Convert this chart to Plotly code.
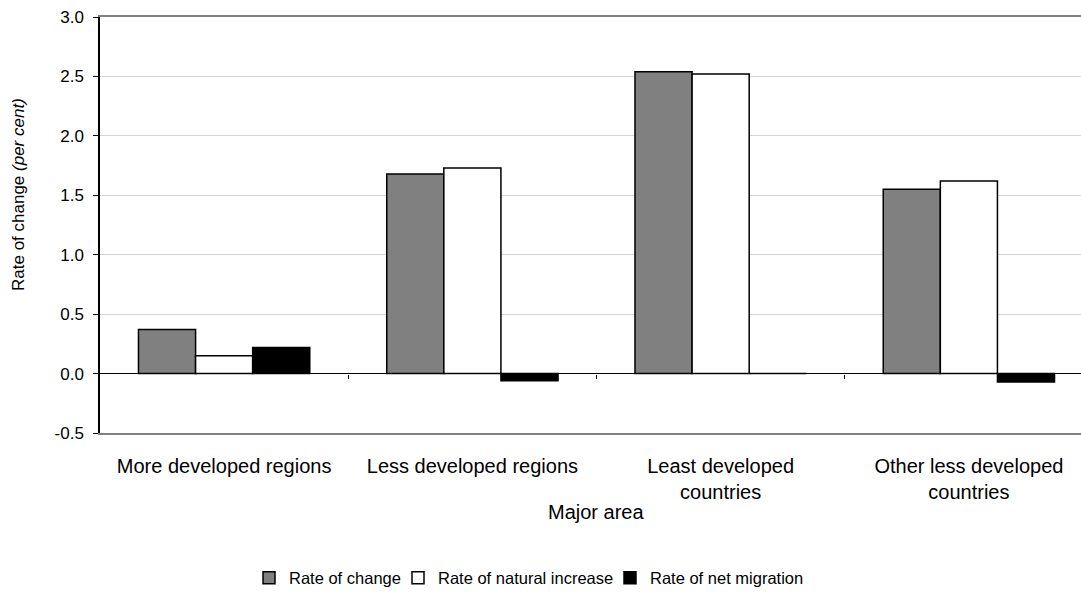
import plotly.graph_objects as go

# Major areas on the category axis
categories = [
    "More developed regions",
    "Less developed regions",
    "Least developed<br>countries",
    "Other less developed<br>countries",
]

# Rates in per cent
rate_of_change = [0.37, 1.68, 2.54, 1.55]
rate_of_natural_increase = [0.15, 1.73, 2.52, 1.62]
rate_of_net_migration = [0.22, -0.06, 0.0, -0.07]

y_ticks = [-0.5, 0.0, 0.5, 1.0, 1.5, 2.0, 2.5, 3.0]

FONT = "Liberation Sans, Arial, sans-serif"
FS_TICK = 17
FS_CAT = 20
FS_LEGEND = 16.5

W, H = 1081, 616
M_L, M_R, M_T, M_B = 100, 0, 17, 183
plot_w = W - M_L - M_R
plot_h = H - M_T - M_B

# name, values, fill, legend id, left edge of the legend entry text (px)
series = [
    ("Rate of change", rate_of_change, "#808080", "legend", 289),
    ("Rate of natural increase", rate_of_natural_increase, "#ffffff", "legend2", 438),
    ("Rate of net migration", rate_of_net_migration, "#000000", "legend3", 650),
]

fig = go.Figure()
for name, values, color, leg, _ in series:
    fig.add_trace(go.Bar(
        x=list(range(len(categories))),
        y=values,
        name=name,
        legend=leg,
        marker=dict(color=color, line=dict(color="#000000", width=1.5)),
    ))

# invisible trace to carry the category boundary ticks on the zero line
fig.add_trace(go.Scatter(x=[0], y=[0], xaxis="x2", mode="markers",
                         marker=dict(opacity=0), showlegend=False, hoverinfo="skip"))

n = len(categories)
x_range = [-0.5, n - 0.5 - 12 / 248]
y_min, y_max = y_ticks[0], y_ticks[-1]


def legend_box(text_left):
    return dict(
        orientation="h",
        xref="container", yref="container",
        x=(text_left - 40) / W, xanchor="left",
        y=1 - 578 / H, yanchor="middle",
        font=dict(size=FS_LEGEND),
        itemwidth=30,
        bgcolor="rgba(0,0,0,0)",
    )


legends = {s[3]: legend_box(s[4]) for s in series}

fig.update_layout(
    width=W,
    height=H,
    margin=dict(l=M_L, r=M_R, t=M_T, b=M_B),
    paper_bgcolor="#ffffff",
    plot_bgcolor="#ffffff",
    font=dict(family=FONT, size=FS_TICK, color="#000000"),
    barmode="group",
    bargap=0.31,
    bargroupgap=0,
    showlegend=True,
    legend=legends["legend"],
    legend2=legends["legend2"],
    legend3=legends["legend3"],
    xaxis=dict(
        range=x_range,
        tickmode="array",
        tickvals=list(range(n)),
        ticktext=categories,
        tickfont=dict(size=FS_CAT),
        ticks="",
        showgrid=False,
        zeroline=False,
        showline=True,
        linecolor="#808080",
        linewidth=1.5,
        mirror=True,
        ticklabelstandoff=14,
        fixedrange=True,
    ),
    xaxis2=dict(
        overlaying="x",
        anchor="free",
        position=(0 - y_min) / (y_max - y_min),
        range=x_range,
        tickmode="array",
        tickvals=[i + 0.5 for i in range(n - 1)],
        ticks="outside",
        ticklen=4,
        tickcolor="#000000",
        showticklabels=False,
        showgrid=False,
        zeroline=False,
        showline=False,
    ),
    yaxis=dict(
        range=[y_min, y_max],
        tickmode="array",
        tickvals=y_ticks,
        ticktext=[f"{v:.1f}" for v in y_ticks],
        ticks="outside",
        ticklen=5,
        tickcolor="#000000",
        showgrid=True,
        gridcolor="#d4d4d4",
        gridwidth=1,
        zeroline=True,
        zerolinecolor="#000000",
        zerolinewidth=1,
        showline=True,
        linecolor="#000000",
        linewidth=1.5,
        ticklabelstandoff=6,
        fixedrange=True,
    ),
    annotations=[
        # y-axis title
        dict(
            text="Rate of change <i>(per cent)</i>",
            xref="paper", yref="paper",
            x=(18 - M_L) / plot_w, y=(M_T + plot_h - 195) / plot_h,
            xanchor="center", yanchor="middle",
            textangle=-90, showarrow=False,
            font=dict(size=FS_TICK),
        ),
        # x-axis title
        dict(
            text="Major area",
            xref="paper", yref="paper",
            x=(596 - M_L) / plot_w, y=(M_T + plot_h - 512) / plot_h,
            xanchor="center", yanchor="middle",
            showarrow=False,
            font=dict(size=20),
        ),
    ],
)

fig.write_html("out.html")
